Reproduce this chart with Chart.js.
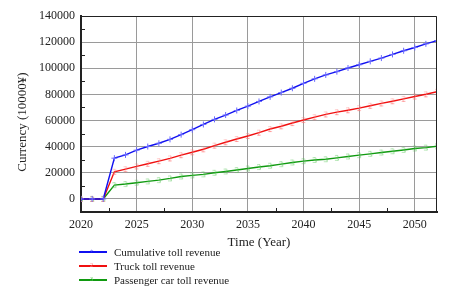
<!DOCTYPE html>
<html>
<head>
<meta charset="utf-8">
<script src="https://cdn.jsdelivr.net/npm/chart.js@4.4.1/dist/chart.umd.min.js"></script>
<style>
    body { margin: 0; background: #fff; }
    #wrap { position: relative; width: 460px; height: 302px; background: #fff; }
    #chartBox { position: absolute; left: 0; top: 0; width: 460px; height: 250px; }
    #legend { position: absolute; left: 79px; top: 245px; font-family: "Liberation Serif", serif; font-size: 11px; color: #222; }
    .row { height: 14px; display: flex; align-items: center; white-space: nowrap; }
    .swatch { width: 28px; height: 2px; margin-right: 7px; position: relative; }
    .swatch span { position: absolute; left: 11px; top: -4px; font-size: 6px; line-height: 8px; }
</style>
</head>
<body>
<div id="wrap">
    <div id="chartBox"><canvas id="revenueChart"></canvas></div>
    <div id="legend"></div>
</div>
<script>
// data (10000 yuan)
var years = [2020, 2021, 2022, 2023, 2024, 2025, 2026, 2027, 2028, 2029, 2030,
    2031, 2032, 2033, 2034, 2035, 2036, 2037, 2038, 2039, 2040,
    2041, 2042, 2043, 2044, 2045, 2046, 2047, 2048, 2049, 2050, 2051, 2052];
var cumulativeRevenue = [0, 0, 0, 31200, 33700, 37300, 40100, 42600, 45600, 49200, 53000,
    57000, 60900, 64200, 67700, 71000, 74600, 78100, 81400, 84700, 88500,
    91900, 94900, 97400, 100200, 102700, 105300, 107800, 110600, 113400, 115900, 118700, 121200];
var truckRevenue = [0, 0, 0, 20800, 22800, 24900, 26900, 28900, 31000, 33500, 35700,
    38000, 40800, 43400, 45900, 48200, 50700, 53500, 55600, 58100, 60400,
    62600, 64700, 66400, 67900, 69500, 71300, 73100, 74800, 76600, 78400, 80100, 82000];
var passengerRevenue = [0, 0, 0, 10600, 11400, 12400, 13400, 14400, 15700, 17200, 18000,
    18800, 20000, 21000, 22100, 23300, 24400, 25400, 26600, 27900, 28900,
    29800, 30400, 31400, 32500, 33500, 34500, 35500, 36500, 37500, 38600, 39300, 40300];

var xTicks = [2020, 2025, 2030, 2035, 2040, 2045, 2050];
var yTicks = [0, 20000, 40000, 60000, 80000, 100000, 120000, 140000];
var xMinorTicks = [2022.5, 2027.5, 2032.5, 2037.5, 2042.5, 2047.5];
var yMinorTicks = [10000, 30000, 50000, 70000, 90000, 110000, 130000];

var seriesNames = ["Cumulative toll revenue", "Truck toll revenue", "Passenger car toll revenue"];
var seriesColors = ["#1010f0", "#f01010", "#109a10"];
var markerColors = ["#6a6aff", "#ff7a7a", "#5cc85c"];
var markerLabels = ["1", "2", "3"];
var yTitle = 'Currency (10000¥)';

var serif = '"Liberation Serif", "DejaVu Serif", serif';

function toPoints(values) {
    return values.map(function (v, i) { return { x: years[i], y: v }; });
}

// 점 모양 (숫자 마커)
function digitMarker(text, color) {
    var c = document.createElement('canvas');
    c.width = 8; c.height = 8;
    var g = c.getContext('2d');
    g.fillStyle = color;
    g.font = '8px ' + serif;
    g.textAlign = 'center';
    g.textBaseline = 'middle';
    g.fillText(text, 4, 4.5);
    return c;
}

var frameLines = {
    id: 'frameLines',
    afterDraw: function (chart) {
        var ctx = chart.ctx, a = chart.chartArea;
        var xs = chart.scales.x, ys = chart.scales.y;
        ctx.save();
        ctx.strokeStyle = '#222';
        ctx.lineWidth = 1;
        ctx.beginPath();
        ctx.moveTo(a.left, a.top + 0.5);
        ctx.lineTo(a.right - 0.5, a.top + 0.5);
        ctx.lineTo(a.right - 0.5, a.bottom);
        ctx.stroke();
        ctx.beginPath();
        xMinorTicks.forEach(function (v) {
            var x = Math.round(xs.getPixelForValue(v)) + 0.5;
            ctx.moveTo(x, a.bottom);
            ctx.lineTo(x, a.bottom - 4);
        });
        yMinorTicks.forEach(function (v) {
            var y = Math.round(ys.getPixelForValue(v)) + 0.5;
            ctx.moveTo(a.left, y);
            ctx.lineTo(a.left + 4, y);
        });
        ctx.stroke();

        // y axis title, a little below the plot centre like the original
        ctx.translate(23, (a.top + a.bottom) / 2 + 8);
        ctx.rotate(-Math.PI / 2);
        ctx.fillStyle = '#222';
        ctx.font = '13px ' + serif;
        ctx.textAlign = 'center';
        ctx.textBaseline = 'middle';
        ctx.fillText(yTitle, 0, 0);
        ctx.restore();
    }
};

var datasets = [cumulativeRevenue, truckRevenue, passengerRevenue].map(function (vals, i) {
    return {
        label: seriesNames[i],
        data: toPoints(vals),
        borderColor: seriesColors[i],
        backgroundColor: seriesColors[i],
        borderWidth: 1.4,
        pointStyle: i == 0 ? 'cross' : digitMarker(markerLabels[i], markerColors[i]),
        pointRadius: 3,
        pointBorderColor: markerColors[i],
        pointBorderWidth: 1,
        tension: 0
    };
});

var ctx = document.getElementById('revenueChart').getContext('2d');
var myChart = new Chart(ctx, {
    type: 'line',
    data: { datasets: datasets },
    options: {
        responsive: true,
        maintainAspectRatio: false,
        animation: false,
        layout: { padding: { left: 0, right: 23, top: 16, bottom: 0 } },
        plugins: {
            legend: { display: false },
            tooltip: { enabled: false }
        },
        scales: {
            x: {
                type: 'linear',
                min: 2020,
                max: 2052,
                afterBuildTicks: function (scale) {
                    scale.ticks = xTicks.map(function (v) { return { value: v }; });
                },
                afterFit: function (scale) { scale.height = 38; },
                ticks: {
                    color: '#222',
                    padding: 6,
                    maxRotation: 0,
                    font: { family: serif, size: 12 },
                    callback: function (v) { return String(v); }
                },
                grid: { color: '#9a9a9a', lineWidth: 1, drawTicks: false },
                border: { display: true, color: '#222', width: 2 },
                title: {
                    display: true,
                    text: 'Time (Year)',
                    color: '#222',
                    padding: { top: 1, bottom: 0 },
                    font: { family: serif, size: 13 }
                }
            },
            y: {
                min: -10000,
                max: 140000,
                afterBuildTicks: function (scale) {
                    scale.ticks = yTicks.map(function (v) { return { value: v }; });
                },
                afterFit: function (scale) { scale.width = 81; },
                ticks: {
                    color: '#222',
                    padding: 6,
                    font: { family: serif, size: 12 },
                    callback: function (v) { return String(v); }
                },
                grid: { color: '#9a9a9a', lineWidth: 1, drawTicks: false },
                border: { display: true, color: '#222', width: 2 }
            }
        }
    },
    plugins: [frameLines]
});

// legend below the chart
var legendBox = document.getElementById('legend');
seriesNames.forEach(function (name, i) {
    var row = document.createElement('div');
    row.className = 'row';
    row.innerHTML = '<div class="swatch" style="background:' + seriesColors[i] + '"><span style="color:' +
        markerColors[i] + '">' + (i == 0 ? '+' : markerLabels[i]) + '</span></div>' + name;
    legendBox.appendChild(row);
});
</script>
</body>
</html>
